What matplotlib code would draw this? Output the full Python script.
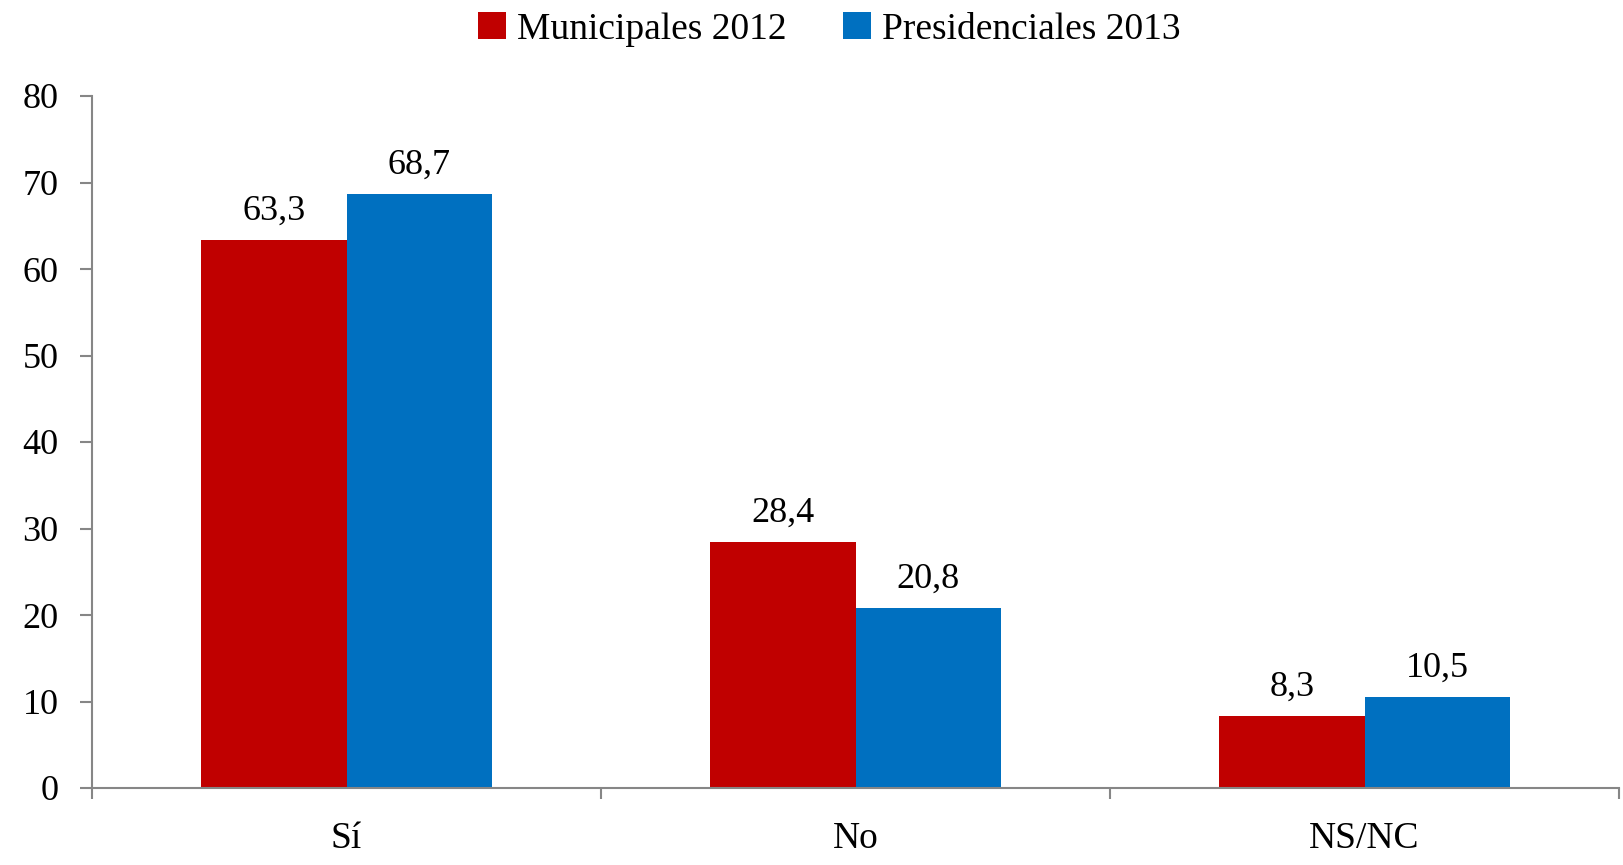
import matplotlib
matplotlib.use("Agg")
import matplotlib.pyplot as plt
import numpy as np

categories = ["Sí", "No", "NS/NC"]
series_names = ["Municipales 2012", "Presidenciales 2013"]
municipales_2012 = [63.3, 28.4, 8.3]
presidenciales_2013 = [68.7, 20.8, 10.5]
yticks = [0, 10, 20, 30, 40, 50, 60, 70, 80]
colors = ["#C00000", "#0070C0"]

plt.rcParams['font.family'] = ['Liberation Serif', 'DejaVu Serif']

fig = plt.figure(figsize=(16.23, 8.65), dpi=100)
ax = fig.add_axes([92/1623, 1-788/865, (1619-92)/1623, (788-96)/865])

x = np.arange(len(categories))
w = 1/3.5
vals = [municipales_2012, presidenciales_2013]
for i, (name, v) in enumerate(zip(series_names, vals)):
    bars = ax.bar(x + (i - 0.5) * w, v, width=w, color=colors[i], label=name,
                  edgecolor='none', zorder=2)
    labels = [f"{val:.1f}".replace('.', ',') for val in v]
    ax.bar_label(bars, labels=labels, padding=9, fontsize=26)

ax.set_xlim(-0.5, len(categories) - 0.5)
ax.set_ylim(0, 80)
ax.set_yticks(yticks)
ax.set_yticklabels([str(t) for t in yticks], fontsize=26)
ax.set_xticks(x)
ax.set_xticklabels(categories, fontsize=27)
ax.set_xticks(np.arange(len(categories) + 1) - 0.5, minor=True)

for s in ['top', 'right']:
    ax.spines[s].set_visible(False)
for s in ['left', 'bottom']:
    ax.spines[s].set_color('#868686')
    ax.spines[s].set_linewidth(1.5)

ax.tick_params(axis='y', direction='out', length=9, width=1.5, color='#868686', pad=15)
ax.tick_params(axis='x', which='major', length=0, pad=24)
ax.tick_params(axis='x', which='minor', direction='out', length=8, width=1.5, color='#868686')

fig.legend(loc='center', bbox_to_anchor=(0.511, 0.966), ncol=2, frameon=False,
           fontsize=27, handlelength=0.75, handleheight=0.75, handletextpad=0.3,
           columnspacing=1.5)

fig.savefig("out.png", dpi=100)
